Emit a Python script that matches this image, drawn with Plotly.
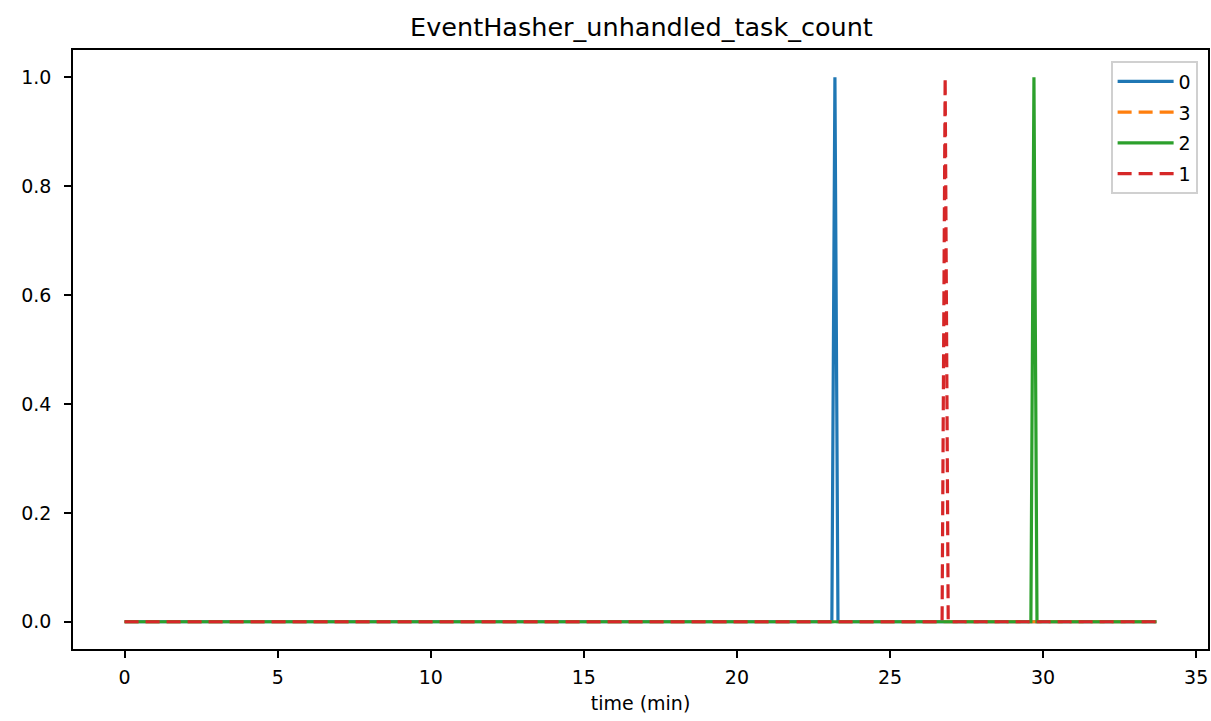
import plotly.graph_objects as go

# series: name -> (times in min, values)
series_names = ["0", "3", "2", "1"]
t0 = [0.0, 23.1, 23.2, 23.3, 33.7]
v0 = [0, 0, 1, 0, 0]
t3 = [0.0, 33.7]
v3 = [0, 0]
t2 = [0.0, 29.6, 29.7, 29.8, 33.7]
v2 = [0, 0, 1, 0, 0]
t1 = [0.0, 26.7, 26.8, 26.9, 33.7]
v1 = [0, 0, 1, 0, 0]

x_ticks = [0, 5, 10, 15, 20, 25, 30, 35]
y_ticks = [0.0, 0.2, 0.4, 0.6, 0.8, 1.0]

colors = ["#1f77b4", "#ff7f0e", "#2ca02c", "#d62728"]
dashes = ["solid", "14px,7px", "solid", "14px,7px"]
data = [(t0, v0), (t3, v3), (t2, v2), (t1, v1)]

FONT = "DejaVu Sans"
W, H = 1211, 721

fig = go.Figure()
for name, (t, v), c, d in zip(series_names, data, colors, dashes):
    fig.add_trace(go.Scatter(x=t, y=v, mode="lines", name=name, legendgroup=name,
                             line=dict(color=c, width=3.2, dash=d)))

axis_common = dict(showgrid=False, zeroline=False, showline=True, linecolor="black",
                   linewidth=1.6, mirror=True, ticks="outside", ticklen=7, tickwidth=1.6,
                   tickcolor="black", tickfont=dict(family=FONT, size=19, color="black"))

L, R, T, B = 73, 1210, 50, 649

fig.update_layout(
    width=W, height=H,
    paper_bgcolor="white", plot_bgcolor="white",
    margin=dict(l=L, r=W - R, t=T, b=H - B),
    title=dict(text="EventHasher_unhandled_task_count", x=(L + R) / 2 / W, xanchor="center",
               y=1 - 27 / H, yanchor="middle",
               font=dict(family=FONT, size=25.5, color="black")),
    xaxis=dict(range=[-1.685, 35.385], tickvals=x_ticks, ticktext=[str(x) for x in x_ticks],
               ticklabelstandoff=3,
               title=dict(text="time (min)", font=dict(family=FONT, size=19, color="black"),
                          standoff=10),
               **axis_common),
    yaxis=dict(range=[-0.05, 1.05], tickvals=y_ticks, ticktext=[f"{y:.1f}" for y in y_ticks],
               ticklabelstandoff=9,
               **axis_common),
    legend=dict(x=(1200 - L) / (R - L), y=(B - 61) / (B - T), xanchor="right", yanchor="top",
                bordercolor="#d0d0d0", borderwidth=1.6, bgcolor="rgba(255,255,255,0.8)",
                font=dict(family=FONT, size=19, color="black"),
                tracegroupgap=3, itemwidth=56),
    showlegend=True,
)

fig.write_html("out.html", config={"displayModeBar": False},
               post_script="document.body.style.margin='0';document.body.style.overflow='hidden';")
